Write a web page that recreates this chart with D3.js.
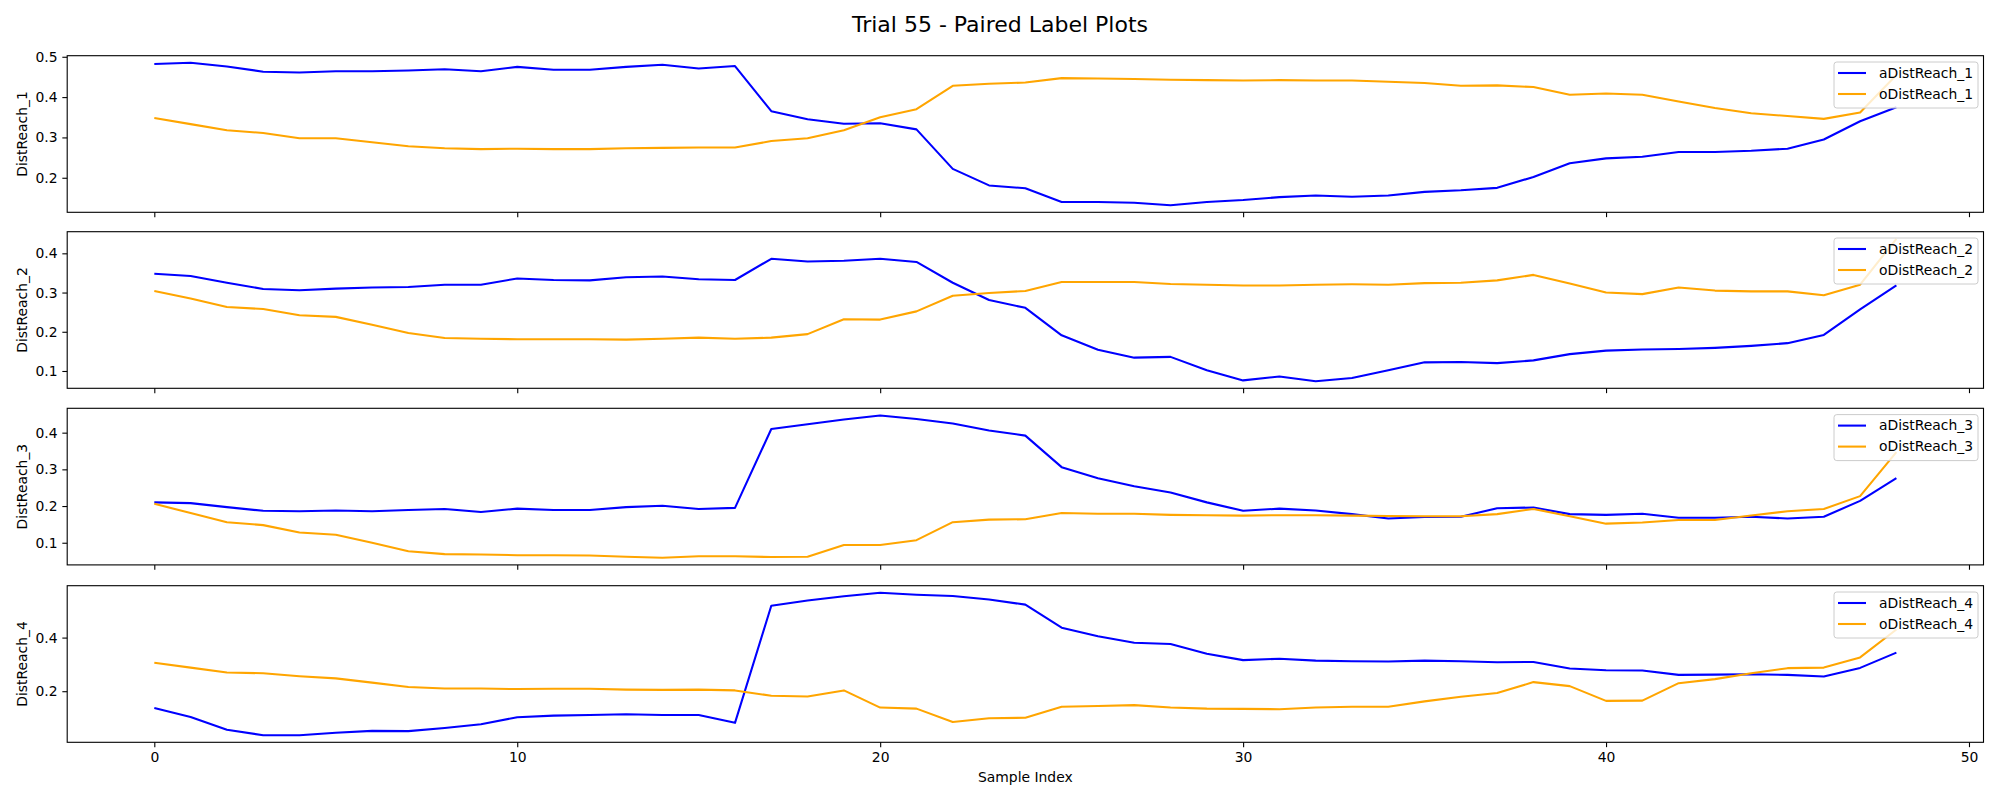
<!DOCTYPE html>
<html>
<head>
<meta charset="utf-8">
<script src="https://cdn.jsdelivr.net/npm/d3@7"></script>
<style>
  body { margin: 0; background: #fff; }
  text { font-family: "DejaVu Sans", sans-serif; fill: #000; }
</style>
</head>
<body>
<div id="chart"></div>
<script>
// sample indices (x axis)
let sampleIndex = [0,1,2,3,4,5,6,7,8,9,10,11,12,13,14,15,16,17,18,19,20,21,22,23,24,
    25,26,27,28,29,30,31,32,33,34,35,36,37,38,39,40,41,42,43,44,45,46,47,48];

let aDistReach_1 = [0.482,0.485,0.476,0.463,0.461,0.464,0.464,0.466,0.469,0.464,0.475,0.468,0.468,0.475,0.480,0.471,0.477,
    0.365,0.345,0.334,0.335,0.320,0.222,0.181,
    0.174,0.140,0.140,0.138,0.132,0.140,0.145,0.152,0.156,0.153,0.156,0.165,0.169,0.175,0.202,0.236,0.248,0.252,0.264,0.264,0.267,0.272,0.295,0.340,0.375];
let oDistReach_1 = [0.348,0.333,0.318,0.311,0.298,0.298,0.288,0.278,0.273,0.271,0.272,0.271,0.271,0.273,0.274,0.275,0.275,0.291,0.298,0.318,0.350,0.370,0.428,0.433,
    0.436,0.447,0.446,0.445,0.443,0.442,0.441,0.442,0.441,0.441,0.438,0.435,0.428,0.429,0.425,0.406,0.409,0.406,0.389,0.373,0.360,0.353,0.346,0.362,0.455];

let aDistReach_2 = [0.348,0.342,0.325,0.309,0.306,0.310,0.313,0.314,0.320,0.320,0.336,0.332,0.331,0.339,0.341,0.334,0.332,0.386,0.379,0.381,0.386,0.378,0.325,0.281,
    0.261,0.191,0.154,0.134,0.136,0.102,0.076,0.086,0.074,0.082,0.102,0.122,0.123,0.120,0.127,0.143,0.152,0.155,0.156,0.159,0.164,0.171,0.192,0.257,0.318];
let oDistReach_2 = [0.304,0.285,0.263,0.258,0.242,0.238,0.218,0.197,0.184,0.182,0.181,0.181,0.181,0.180,0.182,0.185,0.182,0.185,0.194,0.232,0.231,0.252,0.292,0.299,
    0.304,0.327,0.327,0.327,0.322,0.320,0.318,0.318,0.320,0.321,0.320,0.324,0.325,0.331,0.345,0.323,0.300,0.296,0.313,0.305,0.303,0.303,0.293,0.320,0.437];

let aDistReach_3 = [0.210,0.208,0.197,0.187,0.186,0.188,0.186,0.189,0.192,0.184,0.193,0.189,0.189,0.197,0.201,0.192,0.195,0.410,0.423,0.436,0.447,0.437,0.425,0.406,
    0.392,0.306,0.276,0.254,0.237,0.210,0.187,0.193,0.188,0.178,0.166,0.170,0.171,0.194,0.196,0.178,0.176,0.179,0.168,0.168,0.171,0.166,0.171,0.214,0.276];
let oDistReach_3 = [0.206,0.181,0.156,0.148,0.128,0.122,0.100,0.077,0.069,0.068,0.066,0.066,0.065,0.062,0.059,0.063,0.063,0.061,0.062,0.094,0.094,0.107,0.156,0.163,
    0.164,0.181,0.179,0.179,0.176,0.175,0.174,0.175,0.175,0.174,0.173,0.172,0.172,0.178,0.192,0.172,0.152,0.155,0.162,0.162,0.174,0.186,0.192,0.227,0.347];

let aDistReach_4 = [0.137,0.104,0.056,0.036,0.036,0.045,0.052,0.051,0.063,0.077,0.103,0.109,0.111,0.114,0.111,0.111,0.082,0.519,0.538,0.554,0.567,0.560,0.555,0.542,
    0.523,0.437,0.405,0.381,0.376,0.340,0.316,0.321,0.314,0.312,0.311,0.314,0.312,0.308,0.309,0.285,0.278,0.277,0.261,0.262,0.263,0.261,0.255,0.287,0.344];
let oDistReach_4 = [0.306,0.288,0.270,0.267,0.256,0.248,0.232,0.216,0.210,0.210,0.208,0.209,0.209,0.206,0.205,0.206,0.203,0.183,0.180,0.203,0.139,0.135,0.085,0.099,
    0.101,0.142,0.145,0.148,0.139,0.135,0.134,0.133,0.139,0.142,0.142,0.162,0.179,0.193,0.234,0.219,0.164,0.165,0.230,0.245,0.267,0.286,0.288,0.326,0.430];

// tick labels
let xTicks = [0, 10, 20, 30, 40, 50];
let yTicks1 = [0.2, 0.3, 0.4, 0.5];
let yTicks2 = [0.1, 0.2, 0.3, 0.4];
let yTicks3 = [0.1, 0.2, 0.3, 0.4];
let yTicks4 = [0.2, 0.4];

let panels = [
    {label: "DistReach_1", a: aDistReach_1, o: oDistReach_1, aName: "aDistReach_1", oName: "oDistReach_1", ticks: yTicks1},
    {label: "DistReach_2", a: aDistReach_2, o: oDistReach_2, aName: "aDistReach_2", oName: "oDistReach_2", ticks: yTicks2},
    {label: "DistReach_3", a: aDistReach_3, o: oDistReach_3, aName: "aDistReach_3", oName: "oDistReach_3", ticks: yTicks3},
    {label: "DistReach_4", a: aDistReach_4, o: oDistReach_4, aName: "aDistReach_4", oName: "oDistReach_4", ticks: yTicks4}
];

var width = 2000;
var height = 800;
var left = 67.2, right = 1983.5;
var tops = [55.7, 231.7, 408.3, 585.7];
var panelH = 156.6;
var tickLen = 4.86;

let svg = d3.select('#chart')
    .append('svg')
        .attr('width', width)
        .attr('height', height);

svg.append('rect').attr('width', width).attr('height', height).attr('fill', 'white');

// title
svg.append('text')
    .attr('x', width / 2)
    .attr('y', 32)
    .attr('text-anchor', 'middle')
    .style('font-size', '22px')
    .text('Trial 55 - Paired Label Plots');

// shared x scale, matplotlib style 5% margin
let xMin = d3.min(sampleIndex), xMax = d3.max(sampleIndex);
let xPad = (xMax - xMin) * 0.05;
let xScale = d3.scaleLinear()
    .domain([xMin - xPad, xMax + xPad])
    .range([left, right]);

panels.forEach(function (p, k) {
    let top = tops[k];
    let bottom = top + panelH;
    let all = p.a.concat(p.o);
    let lo = d3.min(all), hi = d3.max(all);
    let pad = (hi - lo) * 0.05;

    let yScale = d3.scaleLinear()
        .domain([lo - pad, hi + pad])
        .range([bottom, top]);

    let g = svg.append('g');

    g.append('clipPath')
        .attr('id', 'clip' + k)
      .append('rect')
        .attr('x', left).attr('y', top)
        .attr('width', right - left).attr('height', panelH);

    let line = d3.line()
        .x((d, i) => xScale(sampleIndex[i]))
        .y(d => yScale(d));

    g.append('path')
        .datum(p.a)
        .attr('clip-path', 'url(#clip' + k + ')')
        .attr('fill', 'none')
        .attr('stroke', 'blue')
        .attr('stroke-width', 2.08)
        .attr('stroke-linejoin', 'round')
        .attr('d', line);

    g.append('path')
        .datum(p.o)
        .attr('clip-path', 'url(#clip' + k + ')')
        .attr('fill', 'none')
        .attr('stroke', 'orange')
        .attr('stroke-width', 2.08)
        .attr('stroke-linejoin', 'round')
        .attr('d', line);

    // y axis
    let yAxis = d3.axisLeft(yScale)
        .tickValues(p.ticks)
        .tickFormat(d3.format('.1f'))
        .tickSize(tickLen)
        .tickPadding(4.86);
    let ya = g.append('g')
        .attr('transform', 'translate(' + left + ',0)')
        .call(yAxis);
    ya.select('.domain').remove();
    ya.selectAll('line').attr('stroke', '#000').attr('stroke-width', 1.1);
    ya.selectAll('text').style('font-size', '13.9px').style('font-family', '"DejaVu Sans"').attr('fill', '#000');

    // x axis (labels only on last panel)
    let xAxis = d3.axisBottom(xScale)
        .tickValues(xTicks)
        .tickSize(tickLen)
        .tickPadding(4.86)
        .tickFormat(k === panels.length - 1 ? d3.format('d') : '');
    let xa = g.append('g')
        .attr('transform', 'translate(0,' + bottom + ')')
        .call(xAxis);
    xa.select('.domain').remove();
    xa.selectAll('line').attr('stroke', '#000').attr('stroke-width', 1.1);
    xa.selectAll('text').style('font-size', '13.9px').style('font-family', '"DejaVu Sans"').attr('fill', '#000');

    // spines
    g.append('rect')
        .attr('x', left).attr('y', top)
        .attr('width', right - left).attr('height', panelH)
        .attr('fill', 'none')
        .attr('stroke', '#000')
        .attr('stroke-width', 1.1);

    // y label
    g.append('text')
        .attr('transform', 'translate(27,' + (top + panelH / 2) + ') rotate(-90)')
        .attr('text-anchor', 'middle')
        .style('font-size', '13.9px')
        .text(p.label);

    // legend, upper right
    let lw = 144, lh = 46;
    let lx = right - 5.5 - lw, ly = top + 6.3;
    let leg = g.append('g').attr('transform', 'translate(' + lx + ',' + ly + ')');
    leg.append('rect')
        .attr('width', lw).attr('height', lh)
        .attr('rx', 2.8)
        .attr('fill', 'white').attr('fill-opacity', 0.8)
        .attr('stroke', '#cccccc').attr('stroke-width', 1);
    [[p.aName, 'blue'], [p.oName, 'orange']].forEach(function (e, j) {
        let cy = 11 + j * 21;
        leg.append('line')
            .attr('x1', 4).attr('x2', 32)
            .attr('y1', cy).attr('y2', cy)
            .attr('stroke', e[1]).attr('stroke-width', 2.08);
        leg.append('text')
            .attr('x', 45).attr('y', cy)
            .attr('dy', '0.35em')
            .style('font-size', '13.9px')
            .text(e[0]);
    });
});

// x axis label
svg.append('text')
    .attr('x', (left + right) / 2)
    .attr('y', 782)
    .attr('text-anchor', 'middle')
    .style('font-size', '13.9px')
    .text('Sample Index');
</script>
</body>
</html>
